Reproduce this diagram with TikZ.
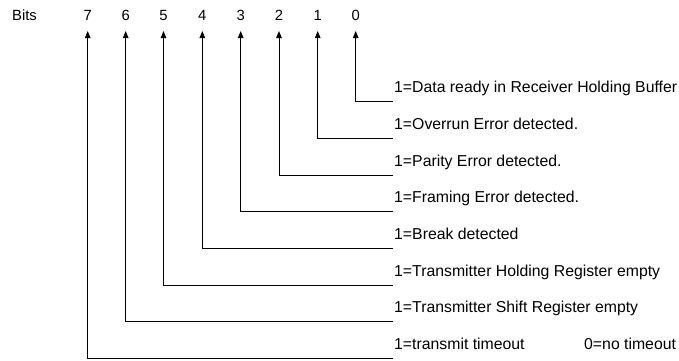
\documentclass[tikz,border=0pt]{standalone}
\usepackage{fontspec}
\setmainfont{Liberation Sans}
\usetikzlibrary{arrows.meta}
\begin{document}
\begin{tikzpicture}[x=1pt,y=-1pt,
  bitnum/.style={font=\fontsize{14.8}{17}\selectfont, inner sep=0pt},
  desc/.style={font=\fontsize{15.8}{18}\selectfont, anchor=base west, inner sep=0pt},
  lead/.style={line width=0.9pt, -{Triangle[length=7pt,width=5.5pt]}}]
\useasboundingbox (0,0) rectangle (679,360);
\node[bitnum, anchor=base west] (bits) at (12,20) {Bits};
% bit number, column x, leader y, description
\foreach \b/\x/\y/\t in {
  0/355.7/101.5/{1=Data ready in Receiver Holding Buffer},
  1/317.7/138.5/{1=Overrun Error detected.},
  2/279/175.5/{1=Parity Error detected.},
  3/240.7/211.5/{1=Framing Error detected.},
  4/202.3/248/{1=Break detected},
  5/163.5/285/{1=Transmitter Holding Register empty},
  6/125.7/321.5/{1=Transmitter Shift Register empty},
  7/87.7/358/{1=transmit timeout}}{
  \node[bitnum, anchor=base] (bit\b) at (\x,20) {\b};
  \node[desc] (desc\b) at (394,\y-9) {\t};
  \coordinate (end\b) at (393,\y);
  \coordinate (tip\b) at (\x,31);
  \draw[lead] (end\b) -| (tip\b);
}
\node[desc] (notimeout) at (584,349) {0=no timeout};
\end{tikzpicture}
\end{document}
